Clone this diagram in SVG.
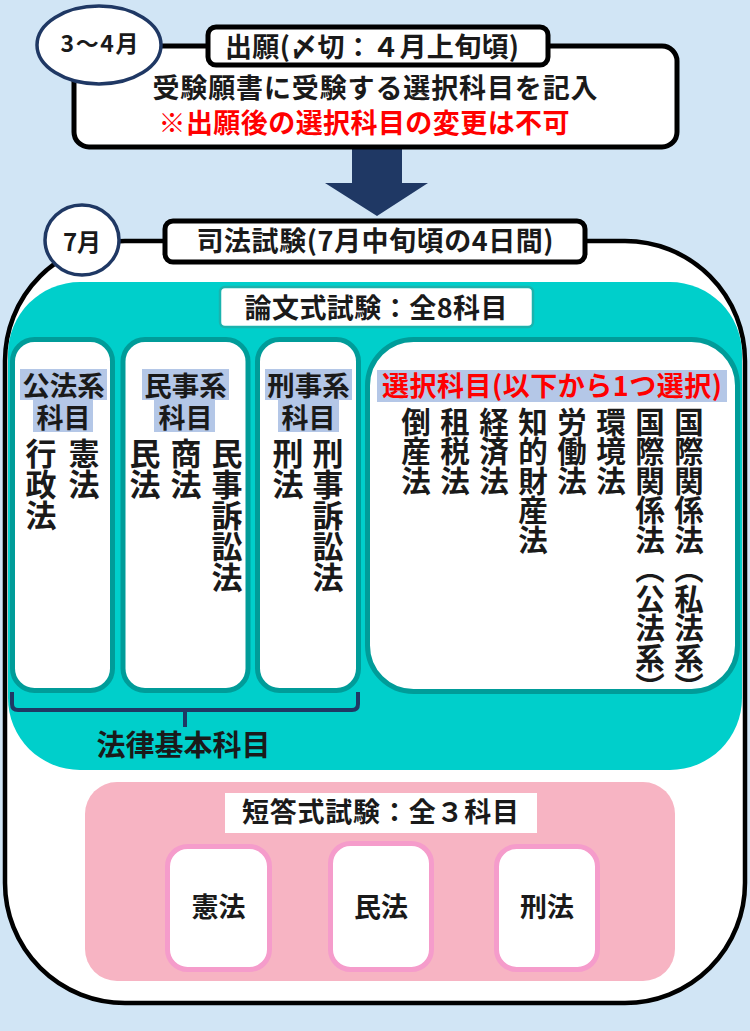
<svg xmlns="http://www.w3.org/2000/svg" width="750" height="1031" viewBox="0 0 750 1031">
<defs>
<style>
text{font-family:"Noto Sans CJK JP","Noto Sans",sans-serif;font-weight:bold;fill:#1a1a1a}
.c{text-anchor:middle}
.v{writing-mode:vertical-rl;text-anchor:start}
.lv{font-size:31px}
.rv{font-size:29.5px}
.hl{fill:#B4C7E7}
.col{fill:#fff;stroke:#009C99;stroke-width:5}
.sb{fill:#fff;stroke:#F59CCB;stroke-width:5}
.tb{fill:#fff;stroke:#000;stroke-width:5}
.circ{fill:#fff;stroke:#1F3864;stroke-width:3.5}
</style>
</defs>
<rect x="0" y="0" width="750" height="1031" fill="#D1E5F5"/>

<g id="connectors">
<path d="M352,148 H402 V183 H428 L377,216 L325,183 H352 Z" fill="#1F3864"/>
</g>

<g id="application">
<rect x="74" y="46" width="603" height="101" rx="15" class="tb"/>
<rect x="208" y="27" width="340" height="38" rx="8" class="tb"/>
<text x="372" y="57" class="c" font-size="27" textLength="294">出願(〆切：４月上旬頃)</text>
<text x="375" y="98" class="c" font-size="27" textLength="445">受験願書に受験する選択科目を記入</text>
<text x="364" y="133" class="c" font-size="27" textLength="411" style="fill:#FF0000">※出願後の選択科目の変更は不可</text>
</g>
<g id="date1">
<ellipse cx="99" cy="45" rx="62" ry="39" class="circ"/>
<text x="99.5" y="52" class="c" font-size="23" textLength="78">3〜4月</text>
</g>

<g id="exam">
<rect x="5" y="241" width="740" height="762" rx="120" fill="#fff" stroke="#000" stroke-width="4.5"/>
<rect x="165" y="221" width="420" height="41" rx="8" class="tb"/>
<text x="375" y="251" class="c" font-size="27" textLength="357">司法試験(7月中旬頃の4日間)</text>
</g>
<g id="date2">
<ellipse cx="82" cy="240" rx="37" ry="35" class="circ"/>
<text x="82" y="251" class="c" font-size="24">7月</text>
</g>

<g id="ronbun">
<rect x="8" y="282" width="734" height="488" rx="72" fill="#00CFCB"/>
<rect x="220" y="287" width="313" height="40" rx="5" fill="#fff" stroke="#1AB3AE" stroke-width="2.5"/>
<text x="376" y="318" class="c" font-size="27" textLength="263">論文式試験：全8科目</text>
</g>

<g id="kohokei">
<rect x="12.5" y="339.5" width="100" height="351" rx="22" class="col"/>
<rect x="20" y="369" width="87" height="31" class="hl"/>
<rect x="33" y="400" width="60" height="32" class="hl"/>
<text x="63.5" y="396" class="c" font-size="27.5">公法系</text>
<text x="63.5" y="428" class="c" font-size="27">科目</text>
<text x="41" y="438" class="v lv">行政法</text>
<text x="84" y="438" class="v lv">憲法</text>
</g>

<g id="minjikei">
<rect x="123" y="339.5" width="125" height="351" rx="22" class="col"/>
<rect x="142" y="369" width="87" height="31" class="hl"/>
<rect x="154" y="400" width="61" height="32" class="hl"/>
<text x="185.5" y="396" class="c" font-size="27.5">民事系</text>
<text x="185.5" y="428" class="c" font-size="27">科目</text>
<text x="145" y="438" class="v lv">民法</text>
<text x="186" y="438" class="v lv">商法</text>
<text x="227" y="438" class="v lv">民事訴訟法</text>
</g>

<g id="keijikei">
<rect x="257.5" y="339.5" width="101" height="351" rx="22" class="col"/>
<rect x="265" y="369" width="87" height="31" class="hl"/>
<rect x="278" y="400" width="61" height="32" class="hl"/>
<text x="308.5" y="396" class="c" font-size="27.5">刑事系</text>
<text x="308.5" y="428" class="c" font-size="27">科目</text>
<text x="288" y="438" class="v lv">刑法</text>
<text x="328" y="438" class="v lv">刑事訴訟法</text>
</g>

<g id="sentaku">
<rect x="367.5" y="339.5" width="370" height="352" rx="46" class="col"/>
<rect x="377" y="370" width="350" height="32" class="hl"/>
<text x="552" y="396" class="c" font-size="27" textLength="340" style="fill:#FF0000">選択科目(以下から1つ選択)</text>
<text x="416" y="407" class="v rv">倒産法</text>
<text x="455" y="407" class="v rv">租税法</text>
<text x="494" y="407" class="v rv">経済法</text>
<text x="533" y="407" class="v rv">知的財産法</text>
<text x="572" y="407" class="v rv">労働法</text>
<text x="611" y="407" class="v rv">環境法</text>
<text x="650" y="407" class="v rv">国際関係法（公法系）</text>
<text x="689" y="407" class="v rv">国際関係法（私法系）</text>
</g>

<g id="kihon">
<path d="M12,692 V704 Q12,710 18,710 H352 Q358,710 358,704 V692 M185,710 V727" fill="none" stroke="#1F3864" stroke-width="4" stroke-linejoin="round"/>
<text x="183.5" y="756" class="c" font-size="29">法律基本科目</text>
</g>

<g id="tanto">
<rect x="85" y="782" width="590" height="199" rx="32" fill="#F7B4C3"/>
<rect x="225" y="793" width="312" height="40" fill="#fff"/>
<text x="380.5" y="822" class="c" font-size="27" textLength="277">短答式試験：全３科目</text>
</g>
<g id="t-kenpo">
<rect x="167.5" y="846.5" width="102" height="123" rx="20" class="sb"/>
<text x="218.5" y="917" class="c" font-size="27">憲法</text>
</g>
<g id="t-minpo">
<rect x="330.5" y="843.5" width="101" height="126" rx="20" class="sb"/>
<text x="381" y="917" class="c" font-size="27">民法</text>
</g>
<g id="t-keiho">
<rect x="496.5" y="846.5" width="101" height="123" rx="20" class="sb"/>
<text x="547" y="917" class="c" font-size="27">刑法</text>
</g>
</svg>
